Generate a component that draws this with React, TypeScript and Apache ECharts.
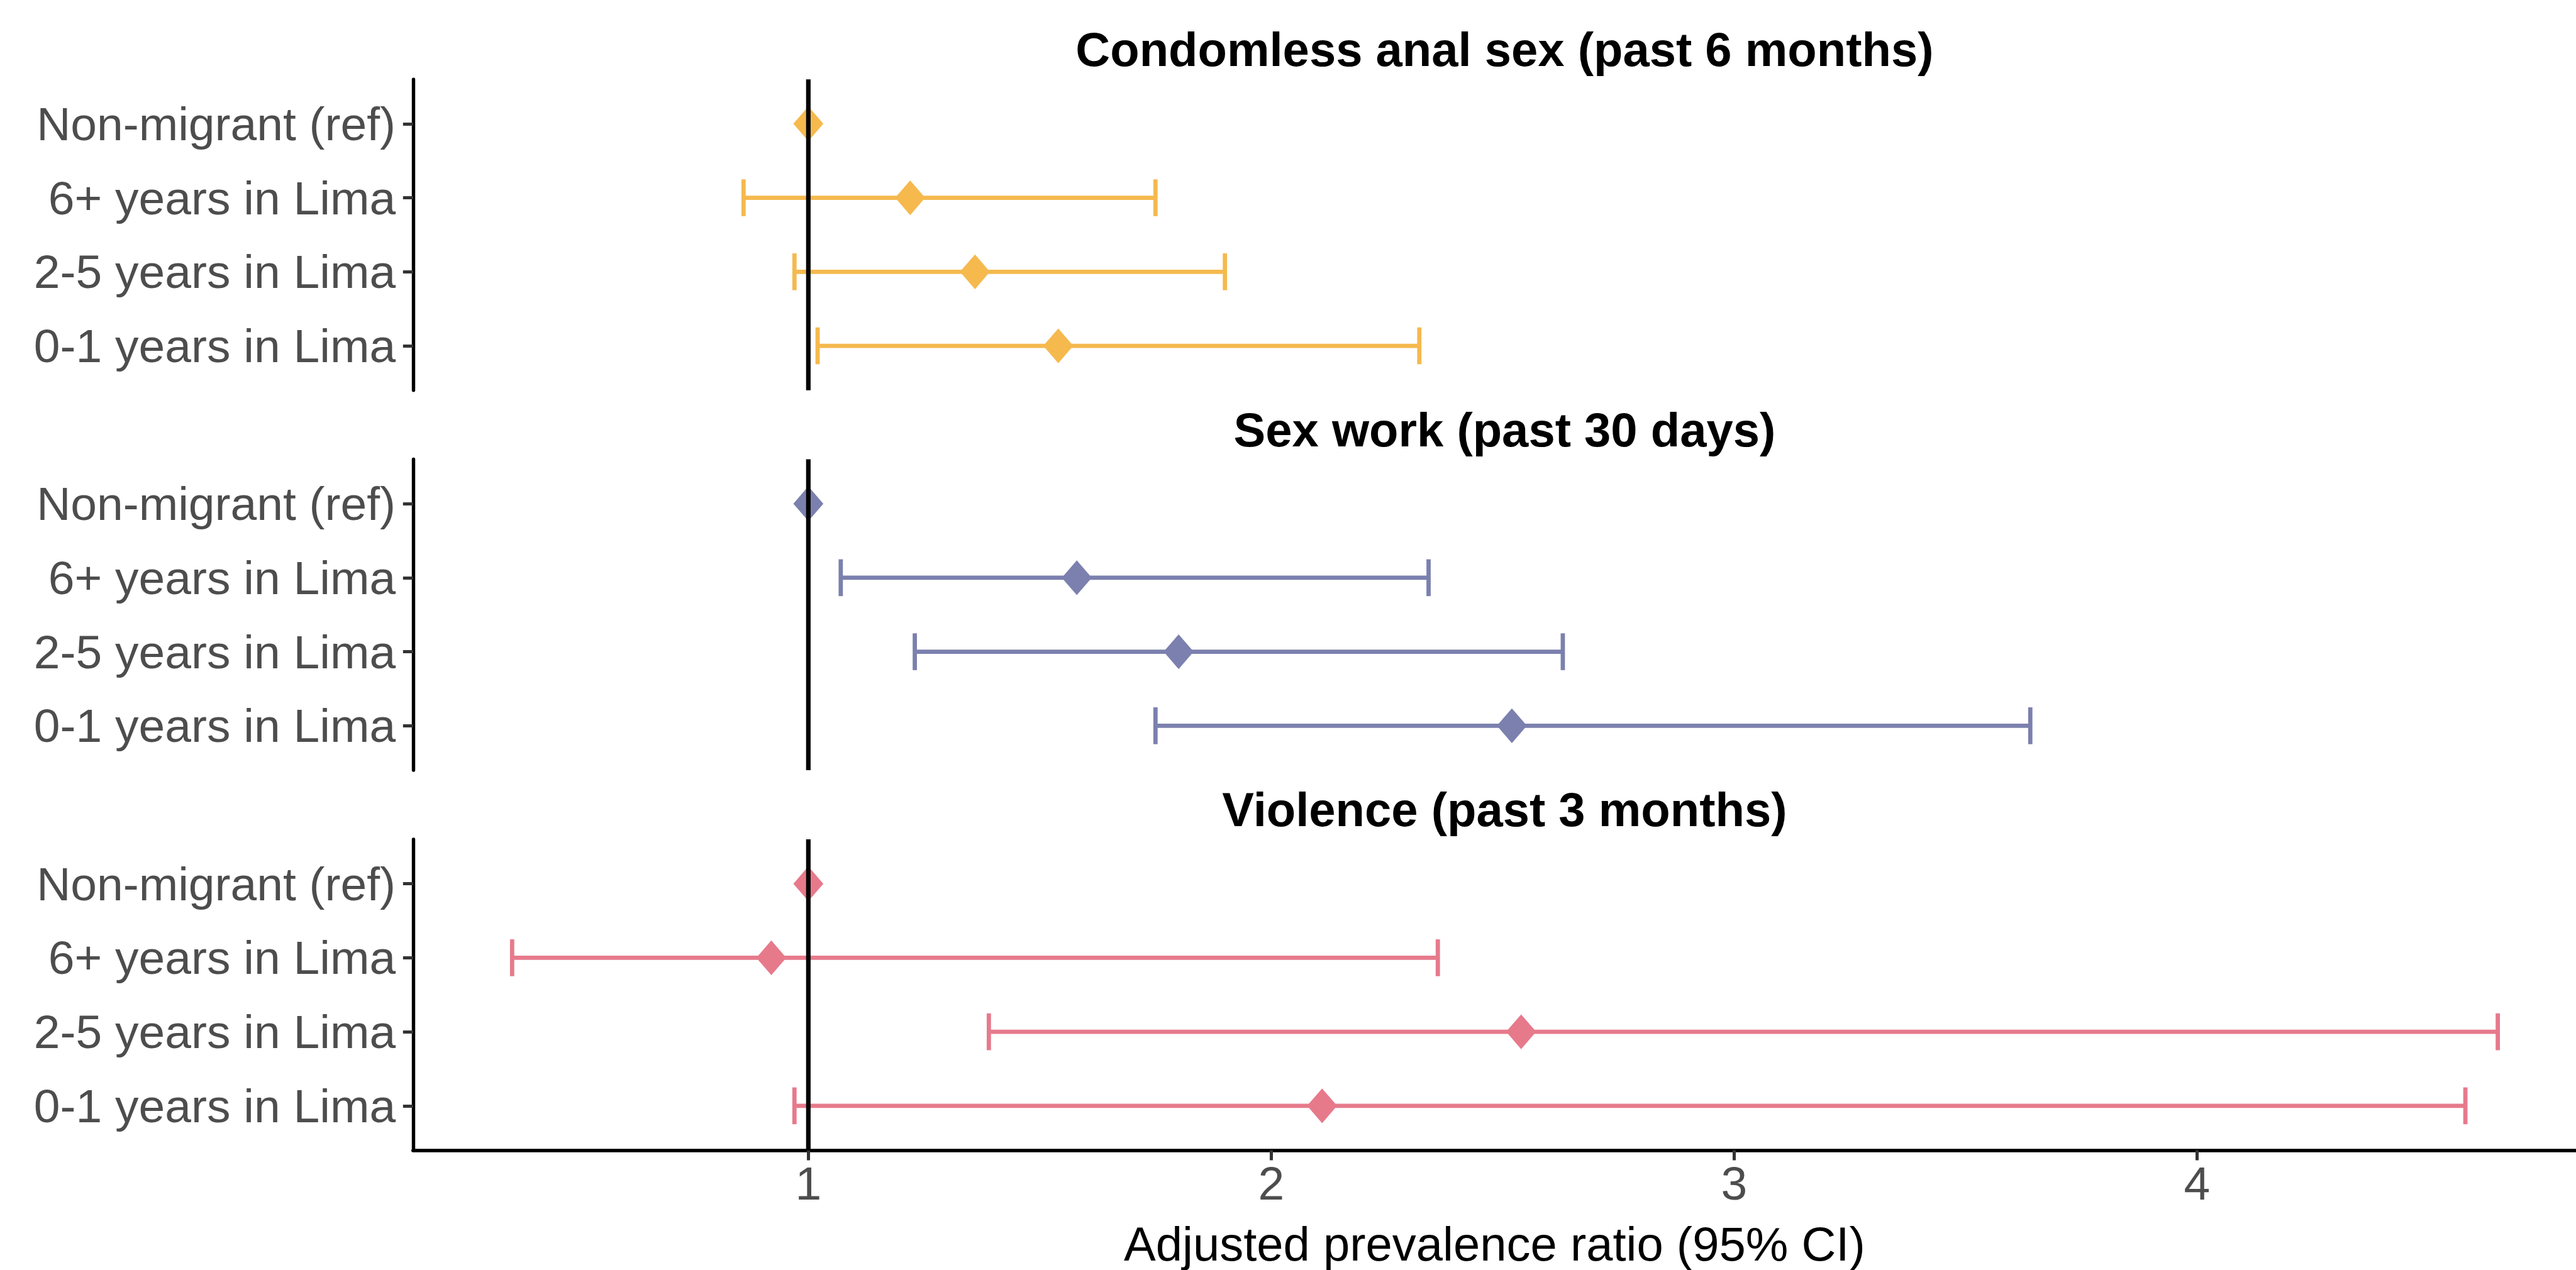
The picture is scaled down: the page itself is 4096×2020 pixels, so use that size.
import React, { useEffect, useRef } from 'react';
import * as echarts from 'echarts';

// ---- data ----
const categories = ['Non-migrant (ref)', '6+ years in Lima', '2-5 years in Lima', '0-1 years in Lima'];
const panelTitles = ['Condomless anal sex (past 6 months)', 'Sex work (past 30 days)', 'Violence (past 3 months)'];
const panelColors = ['#F5B94E', '#7B80AE', '#E67A8B'];

const condomEst = [1, 1.22, 1.36, 1.54];
const condomLow = [null, 0.86, 0.97, 1.02];
const condomHigh = [null, 1.75, 1.9, 2.32];

const sexWorkEst = [1, 1.58, 1.8, 2.52];
const sexWorkLow = [null, 1.07, 1.23, 1.75];
const sexWorkHigh = [null, 2.34, 2.63, 3.64];

const violenceEst = [1, 0.92, 2.54, 2.11];
const violenceLow = [null, 0.36, 1.39, 0.97];
const violenceHigh = [null, 2.36, 4.65, 4.58];

const xTicks = [1, 2, 3, 4];
const xAxisTitle = 'Adjusted prevalence ratio (95% CI)';
const refValue = 1;
const xMin = 0.146;
const xMax = 4.819;

const panels = [
  { est: condomEst, low: condomLow, high: condomHigh },
  { est: sexWorkEst, low: sexWorkLow, high: sexWorkHigh },
  { est: violenceEst, low: violenceLow, high: violenceHigh },
];

// ---- layout (output px) ----
const W = 4096;
const H = 2020;
const FONT = '"Liberation Sans", Arial, Helvetica, sans-serif';
const gridLeft = 656.8;
const gridTops = [126.2, 730.5, 1335];
const gridH = 494.5;
const titleYs = [78.7, 683.5, 1287.3];
const titleX = 2392.4;

export default function App() {
  const ref = useRef<HTMLDivElement>(null);

  useEffect(() => {
    if (!ref.current) return;
    const chart = echarts.init(ref.current, undefined, { renderer: 'svg' });

    const grids = gridTops.map((t) => ({ left: gridLeft, right: 0, top: t, height: gridH, containLabel: false }));

    const xAxes = panels.map((_, i) => {
      const isBottom = i === panels.length - 1;
      return {
        type: 'value',
        gridIndex: i,
        min: xMin,
        max: xMax,
        show: isBottom,
        position: 'bottom',
        splitLine: { show: false },
        axisLine: { show: isBottom, onZero: false, lineStyle: { color: '#000', width: 5.6 } },
        axisTick: { show: isBottom, customValues: xTicks, length: 16, lineStyle: { color: '#333', width: 5 } },
        axisLabel: {
          show: isBottom,
          customValues: xTicks,
          fontSize: 75,
          fontFamily: FONT,
          color: '#4D4D4D',
          margin: 15,
        },
        name: isBottom ? xAxisTitle : '',
        nameLocation: 'middle',
        nameGap: 149,
        nameTextStyle: { fontSize: 76, fontFamily: FONT, color: '#000', verticalAlign: 'middle' },
      };
    });

    const catIdx = categories.map((_, k) => k);
    const yAxes = panels.map((_, i) => ({
      type: 'value',
      gridIndex: i,
      min: -0.6,
      max: 3.6,
      inverse: true,
      position: 'left',
      splitLine: { show: false },
      axisLine: { show: true, onZero: false, lineStyle: { color: '#000', width: 5.4 } },
      axisTick: { show: true, customValues: catIdx, length: 16, lineStyle: { color: '#333', width: 5 } },
      axisLabel: {
        show: true,
        customValues: catIdx,
        formatter: (v: number) => categories[Math.round(v)] ?? '',
        fontSize: 75,
        fontFamily: FONT,
        color: '#4D4D4D',
        margin: 27.7,
      },
    }));

    const series: any[] = [];
    panels.forEach((p, i) => {
      const color = panelColors[i];
      const barData: number[][] = [];
      p.est.forEach((_, k) => {
        const lo = p.low[k];
        const hi = p.high[k];
        if (lo != null && hi != null) barData.push([lo, hi, k]);
      });
      series.push({
        type: 'custom',
        xAxisIndex: i,
        yAxisIndex: i,
        z: 2,
        silent: true,
        encode: { x: [0, 1], y: 2 },
        data: barData,
        renderItem: (params: any, api: any) => {
          const lo = api.value(0);
          const hi = api.value(1);
          const y = api.value(2);
          const a = api.coord([lo, y]);
          const b = api.coord([hi, y]);
          const half = 29.3;
          const style = { stroke: color, lineWidth: 6.8, fill: 'none' };
          return {
            type: 'group',
            children: [
              { type: 'line', shape: { x1: a[0], y1: a[1], x2: b[0], y2: b[1] }, style },
              { type: 'line', shape: { x1: a[0], y1: a[1] - half, x2: a[0], y2: a[1] + half }, style },
              { type: 'line', shape: { x1: b[0], y1: b[1] - half, x2: b[0], y2: b[1] + half }, style },
            ],
          };
        },
      });
      series.push({
        type: 'scatter',
        xAxisIndex: i,
        yAxisIndex: i,
        z: 3,
        symbol: 'diamond',
        symbolSize: [47.7, 55.3],
        itemStyle: { color, opacity: 1 },
        data: p.est.map((v, k) => [v, k]),
      });
      series.push({
        type: 'custom',
        xAxisIndex: i,
        yAxisIndex: i,
        z: 4,
        silent: true,
        encode: { x: 0, y: 1 },
        data: [[refValue, 0]],
        renderItem: (params: any, api: any) => {
          const x = api.coord([api.value(0), 0])[0];
          const cs = params.coordSys;
          return {
            type: 'line',
            shape: { x1: x, y1: cs.y, x2: x, y2: cs.y + cs.height },
            style: { stroke: '#000', lineWidth: 7.2 },
          };
        },
      });
    });

    const graphic = panelTitles.map((t, i) => ({
      type: 'text',
      x: titleX,
      y: titleYs[i],
      silent: true,
      style: {
        text: t,
        fontSize: 76,
        fontWeight: 'bold',
        fontFamily: FONT,
        fill: '#000',
        align: 'center',
        verticalAlign: 'middle',
      },
    }));

    chart.setOption({
      animation: false,
      backgroundColor: '#fff',
      grid: grids,
      xAxis: xAxes,
      yAxis: yAxes,
      series,
      graphic,
    });

    return () => chart.dispose();
  }, []);

  return <div ref={ref} style={{ position: 'absolute', left: 0, top: 0, width: W, height: H }} />;
}
